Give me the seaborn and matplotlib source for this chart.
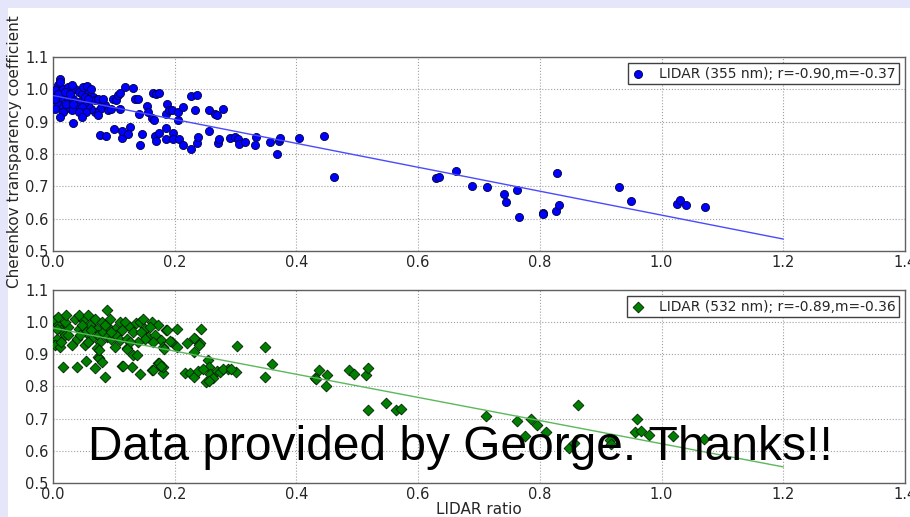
import pandas as pd
import numpy as np
import seaborn as sns
import matplotlib.pyplot as plt
from matplotlib.patches import Rectangle

# LIDAR ratio vs Cherenkov transparency coefficient, 355 nm
x355 = [0.009, 0.017, 0.025, 0.036, 0.042, 0.047, 0.058, 0.066, 0.069, 0.074,
        0.080, 0.085, 0.083, 0.077, 0.069, 0.063, 0.058, 0.052, 0.042, 0.039,
        0.031, 0.020, 0.011, 0.006, 0.006, 0.014, 0.025, 0.033, 0.047, 0.055,
        0.074, 0.091, 0.096, 0.099, 0.104, 0.110, 0.003, 0.009, 0.020, 0.028,
        0.022, 0.033, 0.052, 0.058, 0.042, 0.003, 0.003, 0.017, 0.050, 0.031,
        0.011, 0.011, 0.011, 0.033, 0.048, 0.056, 0.063, 0.107,
        0.077, 0.087, 0.100, 0.113, 0.114, 0.119, 0.110, 0.126, 0.123, 0.132,
        0.134, 0.139, 0.143, 0.147, 0.142, 0.155, 0.156, 0.162, 0.166, 0.164,
        0.170, 0.175, 0.168, 0.170, 0.175, 0.185, 0.185, 0.185, 0.187, 0.190,
        0.196, 0.197, 0.197, 0.207, 0.205, 0.205, 0.214, 0.213, 0.226, 0.226,
        0.236, 0.234, 0.236, 0.239, 0.256, 0.256, 0.266, 0.270, 0.272, 0.273,
        0.280, 0.291, 0.299, 0.304, 0.305, 0.315, 0.332, 0.334, 0.357, 0.368,
        0.371, 0.373, 0.404, 0.446, 0.461, 0.629, 0.634, 0.662,
        0.688, 0.714, 0.741, 0.744, 0.763, 0.765, 0.805, 0.805, 0.827, 0.832,
        0.828, 0.930, 0.950, 1.026, 1.031, 1.040, 1.071]
y355 = [1.012, 1.002, 1.007, 1.002, 0.992, 0.987, 0.997, 0.976, 0.966, 0.971,
        0.951, 0.951, 0.971, 0.940, 0.930, 0.940, 0.951, 0.961, 0.961, 0.945,
        0.935, 0.940, 0.951, 0.961, 0.981, 0.976, 0.971, 0.971, 0.945, 0.930,
        0.920, 0.935, 0.940, 0.971, 0.966, 0.940, 0.997, 0.987, 0.992, 0.987,
        0.956, 0.956, 0.976, 0.971, 0.930, 0.940, 0.971, 0.930, 1.007, 1.012,
        1.033, 1.022, 0.915, 0.895, 0.916, 1.010, 1.000, 0.981,
        0.858, 0.855, 0.878, 0.850, 0.870, 1.008, 0.990, 0.884, 0.862, 1.004,
        0.970, 0.970, 0.828, 0.862, 0.925, 0.950, 0.930, 0.910, 0.905, 0.990,
        0.985, 0.988, 0.855, 0.840, 0.865, 0.880, 0.847, 0.925, 0.955, 0.935,
        0.935, 0.865, 0.845, 0.845, 0.905, 0.930, 0.945, 0.828, 0.817, 0.980,
        0.982, 0.937, 0.833, 0.853, 0.937, 0.870, 0.923, 0.920, 0.833, 0.847,
        0.940, 0.850, 0.853, 0.845, 0.832, 0.837, 0.827, 0.852, 0.837, 0.800,
        0.840, 0.850, 0.850, 0.857, 0.728, 0.725, 0.728, 0.747,
        0.700, 0.698, 0.677, 0.652, 0.688, 0.606, 0.619, 0.614, 0.624, 0.643,
        0.741, 0.698, 0.654, 0.646, 0.658, 0.643, 0.636]

# same for 532 nm
x532 = [0.088, 0.003, 0.009, 0.014, 0.006, 0.003, 0.011, 0.020, 0.025, 0.031,
        0.036, 0.039, 0.042, 0.050, 0.052, 0.055, 0.061, 0.063, 0.069, 0.072,
        0.074, 0.077, 0.080, 0.082, 0.088, 0.091, 0.093, 0.096, 0.102, 0.104,
        0.110, 0.110, 0.118, 0.121, 0.126, 0.132, 0.137, 0.143, 0.148, 0.151,
        0.156, 0.162, 0.167, 0.173, 0.178, 0.186, 0.195, 0.203, 0.072, 0.074,
        0.102, 0.121, 0.132, 0.017, 0.039, 0.054, 0.069, 0.085, 0.113, 0.130,
        0.143, 0.162, 0.173, 0.178, 0.181, 0.165, 0.181, 0.151, 0.140, 0.009,
        0.020, 0.025, 0.044, 0.047, 0.058, 0.063, 0.085, 0.096, 0.113, 0.126,
        0.145, 0.159, 0.006, 0.014, 0.022, 0.042, 0.058,
        0.075, 0.081, 0.075, 0.115, 0.122, 0.138, 0.164, 0.174, 0.180, 0.183,
        0.188, 0.192, 0.204, 0.217, 0.225, 0.231, 0.238, 0.244, 0.232, 0.220,
        0.233, 0.241, 0.252, 0.255, 0.257, 0.258, 0.263, 0.269, 0.275, 0.288,
        0.301, 0.302, 0.348, 0.349, 0.360, 0.431, 0.437, 0.448, 0.450, 0.486,
        0.495, 0.514, 0.518, 0.517, 0.548, 0.563, 0.572, 0.177, 0.246, 0.257,
        0.279, 0.292, 0.231, 0.240, 0.433,
        0.711, 0.762, 0.785, 0.796, 0.775, 0.810, 0.862, 0.848, 0.856, 0.915,
        0.960, 0.957, 0.967, 0.980, 1.019, 1.070, 0.917]
y532 = [1.037, 1.006, 0.991, 0.975, 0.949, 0.929, 0.924, 0.960, 0.986, 0.929,
        1.011, 0.949, 0.980, 1.006, 0.929, 0.970, 0.991, 0.949, 1.011, 0.980,
        0.960, 0.939, 1.001, 0.970, 0.955, 0.986, 1.011, 0.949, 0.980, 0.960,
        1.001, 0.944, 1.001, 0.949, 0.986, 0.970, 0.996, 1.001, 1.011, 0.980,
        0.955, 1.001, 0.960, 0.991, 0.944, 0.975, 0.939, 0.980, 0.919, 0.893,
        0.924, 0.919, 0.898, 0.862, 0.862, 0.879, 0.857, 0.831, 0.865, 0.862,
        0.838, 0.852, 0.872, 0.862, 0.841, 0.939, 0.924, 0.949, 0.939, 1.017,
        1.001, 0.960, 0.960, 0.991, 0.939, 0.975, 0.991, 0.970, 0.975, 0.939,
        0.970, 0.986, 0.980, 0.939, 1.022, 1.022, 1.022,
        0.890, 0.877, 0.913, 0.864, 0.915, 0.898, 0.851, 0.874, 0.860, 0.915,
        0.976, 0.940, 0.922, 0.843, 0.843, 0.831, 0.849, 0.980, 0.908, 0.934,
        0.949, 0.934, 0.815, 0.882, 0.862, 0.839, 0.826, 0.849, 0.846, 0.854,
        0.846, 0.926, 0.922, 0.831, 0.869, 0.826, 0.851, 0.800, 0.836, 0.851,
        0.839, 0.836, 0.857, 0.726, 0.748, 0.728, 0.730, 0.863, 0.853, 0.816,
        0.853, 0.853, 0.950, 0.930, 0.824,
        0.707, 0.692, 0.700, 0.681, 0.647, 0.658, 0.743, 0.609, 0.625, 0.633,
        0.699, 0.658, 0.661, 0.650, 0.645, 0.638, 0.620]

# linear fits (slope from legend, intercept)
fit_range = [0.0, 1.2]
slope355, icept355 = -0.37, 0.981
slope532, icept532 = -0.36, 0.982

label355 = "LIDAR (355 nm); r=-0.90,m=-0.37"
label532 = "LIDAR (532 nm); r=-0.89,m=-0.36"

xticks = [0.0, 0.2, 0.4, 0.6, 0.8, 1.0, 1.2, 1.4]
yticks = [0.5, 0.6, 0.7, 0.8, 0.9, 1.0, 1.1]

sns.set_style("whitegrid", {
    "grid.linestyle": ":",
    "grid.color": "#a0a0a0",
    "axes.edgecolor": "#606060",
})
plt.rcParams["font.family"] = ["DejaVu Sans"]

df355 = pd.DataFrame({"ratio": x355, "coef": y355})
df532 = pd.DataFrame({"ratio": x532, "coef": y532})
fit_x = np.array(fit_range)
fit355 = pd.DataFrame({"ratio": fit_x, "coef": icept355 + slope355 * fit_x})
fit532 = pd.DataFrame({"ratio": fit_x, "coef": icept532 + slope532 * fit_x})

fig = plt.figure(figsize=(9.1, 5.17), dpi=100)
fig.patch.set_facecolor("#e6e6fa")
fig.add_artist(Rectangle((8 / 910, 0), 1, 1 - 8 / 517, transform=fig.transFigure,
                         facecolor="white", edgecolor="none", zorder=-5))

ax1 = fig.add_axes([0.0582, 0.5145, 0.9363, 0.3752])
ax2 = fig.add_axes([0.0582, 0.0658, 0.9363, 0.3733])

sns.scatterplot(data=df355, x="ratio", y="coef", ax=ax1, color="#0000ff",
                marker="o", s=34, edgecolor="#00003a", linewidth=0.6,
                label=label355, zorder=3)
sns.lineplot(data=fit355, x="ratio", y="coef", ax=ax1, color="#4a4aff",
             linewidth=1.0, zorder=4)

sns.scatterplot(data=df532, x="ratio", y="coef", ax=ax2, color="#008000",
                marker="D", s=30, edgecolor="#002000", linewidth=0.6,
                label=label532, zorder=3)
sns.lineplot(data=fit532, x="ratio", y="coef", ax=ax2, color="#5cb85c",
             linewidth=1.0, zorder=4)

for ax in (ax1, ax2):
    ax.set_xlim(0, 1.4)
    ax.set_ylim(0.5, 1.1)
    ax.set_xticks(xticks)
    ax.set_yticks(yticks)
    ax.set_xticklabels([f"{v:.1f}" for v in xticks])
    ax.set_yticklabels([f"{v:.1f}" for v in yticks])
    ax.tick_params(labelsize=10.5, pad=3, length=0)
    ax.set_xlabel("")
    ax.set_ylabel("")
    ax.grid(True, linewidth=0.8)
    for sp in ax.spines.values():
        sp.set_linewidth(1.0)
    ax.legend(loc="upper right", fancybox=False, framealpha=1,
              edgecolor="#404040", fontsize=10, scatterpoints=1,
              borderpad=0.25, handlelength=1.0, handletextpad=1.0,
              borderaxespad=0.45)
    ax.get_legend().get_frame().set_linewidth(1.0)

ax2.set_xlabel("LIDAR ratio", fontsize=11, labelpad=0)
fig.text(15 / 910, 1 - 152 / 517, "Cherenkov transparency coefficient",
         rotation=90, ha="center", va="center", fontsize=11)

fig.text(88 / 910, 1 - 460 / 517, "Data provided by George. Thanks!!",
         fontsize=34.5, family=["Liberation Sans", "DejaVu Sans"],
         ha="left", va="baseline", color="black", zorder=10)

plt.savefig("out.png", dpi=100, facecolor=fig.get_facecolor())
